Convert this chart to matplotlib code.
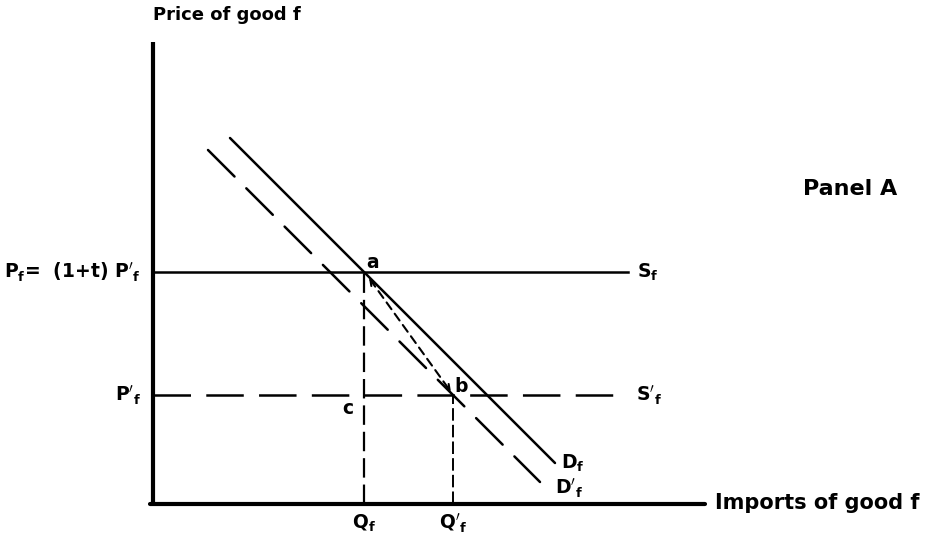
import numpy as np
import matplotlib
matplotlib.use('Agg')
import matplotlib.pyplot as plt

plt.rcParams['font.family'] = ['DejaVu Sans']
plt.rcParams['font.weight'] = 'bold'
plt.rcParams['mathtext.fontset'] = 'dejavusans'
plt.rcParams['mathtext.default'] = 'bf'
plt.rcParams['lines.scale_dashes'] = False

# prices and quantities (arbitrary units)
P_tariff = 23.2     # Pf = (1+t) P'f
P_world = 10.9      # P'f
Q_f = 21.1
Q_f2 = 30.0         # Q'f
S_end = 47.5        # where the supply lines stop

# demand curves, end points
Df_x = [7.7, 40.2]
Df_y = [36.6, 4.1]
Df2_x = [5.5, 38.7]
Df2_y = [35.4, 2.2]

# axes extent
x_axis_end = 55.2
y_axis_end = 46.2

fig = plt.figure(figsize=(9.26, 5.37), dpi=100)
ax = fig.add_axes([0, 0, 1, 1])
ax.set_xlim(-15.3, 77.3)
ax.set_ylim(-3.3, 50.4)
ax.axis('off')

# axes lines
ax.plot([0, 0], [-0.1, y_axis_end], color='black', lw=3, solid_capstyle='butt')
ax.plot([-0.3, x_axis_end], [0, 0], color='black', lw=3, solid_capstyle='round')

# supply curves
ax.plot([0, S_end], [P_tariff, P_tariff], color='black', lw=1.8)
ax.plot([0, S_end], [P_world, P_world], color='black', lw=1.8, dashes=(27, 11))

# demand curves
ax.plot(Df_x, Df_y, color='black', lw=1.8, solid_capstyle='round')
ax.plot(Df2_x, Df2_y, color='black', lw=1.8, dashes=(27, 12), dash_capstyle='round')

# drop lines
ax.plot([Q_f, Q_f], [0, P_tariff], color='black', lw=1.6, dashes=(14, 5))
ax.plot([Q_f2, Q_f2], [0, P_world], color='black', lw=1.4, dashes=(9, 3))

# movement from a to b
ax.annotate('', xy=(Q_f2 - 0.2, P_world + 0.3), xytext=(Q_f + 0.5, P_tariff - 0.6),
            arrowprops=dict(arrowstyle='<->', linestyle=(0, (6, 4)), lw=1.5,
                            shrinkA=0, shrinkB=0, mutation_scale=10, color='black'))

fs = 13.5
ax.text(0, 48.9, 'Price of good f', fontsize=13, ha='left', va='center')
ax.text(56.2, 0.1, 'Imports of good f', fontsize=15, ha='left', va='center')
ax.text(65.0, 31.5, 'Panel A', fontsize=16, ha='left', va='center')

ax.text(-1.3, P_tariff, r"$P_f$=  (1+t) $P'_f$", fontsize=fs, ha='right', va='center')
ax.text(-1.2, P_world, r"$P'_f$", fontsize=fs, ha='right', va='center')
ax.text(S_end + 0.9, P_tariff, r"$S_f$", fontsize=fs, ha='left', va='center')
ax.text(S_end + 0.8, P_world, r"$S'_f$", fontsize=fs, ha='left', va='center')
ax.text(Df_x[1] + 0.6, Df_y[1], r"$D_f$", fontsize=fs, ha='left', va='center')
ax.text(Df2_x[1] + 1.5, Df2_y[1] - 0.6, r"$D'_f$", fontsize=fs, ha='left', va='center')
ax.text(Q_f, -1.9, r"$Q_f$", fontsize=fs, ha='center', va='center')
ax.text(Q_f2, -1.9, r"$Q'_f$", fontsize=fs, ha='center', va='center')

ax.text(Q_f + 0.9, P_tariff + 0.9, 'a', fontsize=fs, ha='center', va='center')
ax.text(Q_f2 + 0.8, P_world + 0.9, 'b', fontsize=fs, ha='center', va='center')
ax.text(Q_f - 1.6, P_world - 1.3, 'c', fontsize=fs, ha='center', va='center')

fig.savefig('out.png', dpi=100)
